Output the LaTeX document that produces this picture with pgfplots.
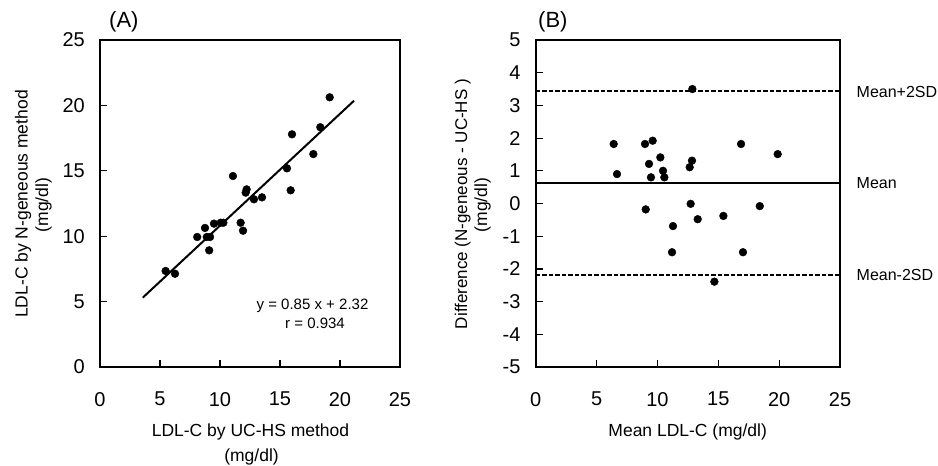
\documentclass[border=0pt]{standalone}
\usepackage{pgfplots}
\pgfplotsset{compat=1.18}
\usepackage{fontspec}
\setmainfont{Liberation Sans}
\begin{document}
\begin{tikzpicture}[x=1pt,y=1pt]
\path[use as bounding box] (0,0) rectangle (938,-466);
\pgfplotsset{
  myaxis/.style={
    scale only axis,
    width=300pt, height=327pt,
    axis line style={line width=1.9pt},
    tick align=inside,
    xtick pos=left, ytick pos=left,
    major tick length=7pt,
    tick style={line width=1.2pt, black},
    ticklabel style={font=\fontsize{20}{20}\selectfont, inner sep=0pt},
    xticklabel style={yshift=-25pt},
    yticklabel style={xshift=-15pt},
    xmin=0, xmax=25,
    xtick={0,5,10,15,20,25},
    xticklabels={0,5,10,15,20,25},
    clip=false,
  }
}
% Panel A
\begin{axis}[myaxis, at={(100pt,-367pt)}, anchor=south west,
  ymin=0, ymax=25,
  ytick={0,5,10,15,20,25},
  yticklabels={0,5,10,15,20,25}]
\addplot[only marks, mark=*, mark size=3.9pt, black] coordinates {
(5.47,7.34) (6.25,7.13) (8.10,9.94) (8.75,10.63) (8.90,9.94) (9.17,9.94)
(9.10,8.92) (9.50,10.96) (10.06,11.03) (10.28,11.03) (11.08,14.60) (11.72,11.03)
(11.92,10.42) (12.22,13.58) (12.14,13.33) (12.83,12.82) (13.50,12.97) (15.58,15.19)
(15.89,13.51) (16.00,17.79) (17.78,16.28) (18.36,18.33) (19.14,20.62)
};
\addplot[black, line width=2pt] coordinates {(3.56,5.3) (21.17,20.36)};
\end{axis}
% Panel B
\begin{axis}[myaxis, at={(535.7pt,-367pt)}, anchor=south west, width=304.3pt,
  ymin=-5, ymax=5,
  ytick={-5,-4,-3,-2,-1,0,1,2,3,4,5},
  yticklabels={-5,-4,-3,-2,-1,0,1,2,3,4,5}]
\addplot[only marks, mark=*, mark size=3.9pt, black] coordinates {
(6.41,1.82) (6.68,0.90) (8.98,1.82) (9.61,1.92) (10.24,1.41) (9.31,1.21)
(10.46,1.00) (9.47,0.80) (10.57,0.80) (12.65,1.11) (12.84,1.31) (12.87,3.50)
(16.87,1.82) (19.88,1.51) (9.04,-0.18) (12.73,-0.01) (13.31,-0.48) (11.28,-0.69)
(15.42,-0.38) (18.41,-0.08) (11.20,-1.49) (17.03,-1.49) (14.68,-2.39)
};
\addplot[black, line width=1.8pt] coordinates {(0,0.62) (25,0.62)};
\addplot[black, line width=1.3pt, dash pattern=on 4.5pt off 2pt] coordinates {(0,3.44) (25,3.44)};
\addplot[black, line width=1.3pt, dash pattern=on 4.5pt off 2pt] coordinates {(0,-2.19) (25,-2.19)};
\end{axis}
% labels
\begin{scope}[every node/.style={inner sep=0pt}]
\node[anchor=base west, font=\fontsize{22}{22}\selectfont] at (109,-27.5) {(A)};
\node[anchor=base west, font=\fontsize{22}{22}\selectfont] at (538,-27.5) {(B)};
\node[anchor=base, font=\fontsize{17.5}{17.5}\selectfont] at (250.5,-436.5) {LDL-C by UC-HS method};
\node[anchor=base, font=\fontsize{17.5}{17.5}\selectfont] at (251.5,-461) {(mg/dl)};
\node[anchor=base, rotate=90, font=\fontsize{17.5}{17.5}\selectfont] at (27.5,-204) {LDL-C by N-geneous method};
\node[anchor=base, rotate=90, font=\fontsize{17.5}{17.5}\selectfont] at (48,-205) {(mg/dl)};
\node[anchor=base, rotate=90, font=\fontsize{17}{17}\selectfont] at (467,-204) {Difference (N-geneous - UC-HS )};
\node[anchor=base, rotate=90, font=\fontsize{17.5}{17.5}\selectfont] at (487,-205) {(mg/dl)};
\node[anchor=base, font=\fontsize{17.5}{17.5}\selectfont] at (687.7,-436.5) {Mean LDL-C (mg/dl)};
\node[anchor=base, font=\fontsize{15}{15}\selectfont] at (312.5,-309.5) {y = 0.85 x + 2.32};
\node[anchor=base, font=\fontsize{15}{15}\selectfont] at (315,-328) {r = 0.934};
\node[anchor=west, font=\fontsize{16}{16}\selectfont] at (856.5,-91.5) {Mean+2SD};
\node[anchor=west, font=\fontsize{16}{16}\selectfont] at (856.5,-183.3) {Mean};
\node[anchor=west, font=\fontsize{16}{16}\selectfont] at (856.5,-275) {Mean-2SD};
\end{scope}
\end{tikzpicture}
\end{document}
